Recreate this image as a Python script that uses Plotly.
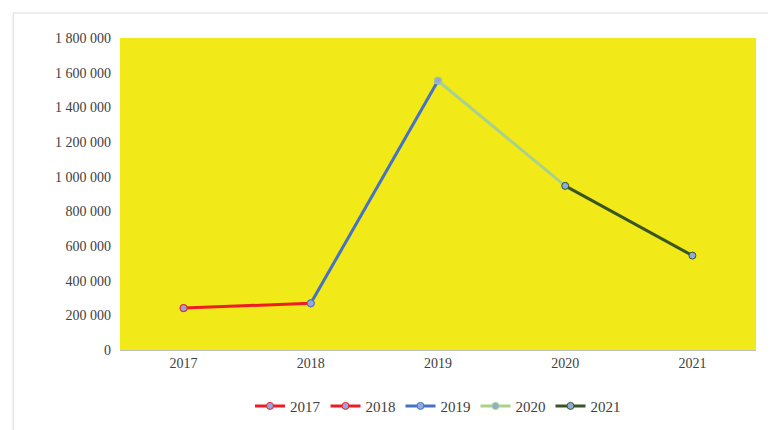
import plotly.graph_objects as go

years = ["2017", "2018", "2019", "2020", "2021"]
values = [241880, 269289, 1553546, 946956, 544765]
labels = ["241  880", "269  289", "1 553  546", "946  956", "544  765"]
colors = ["#ee1c25", "#ee1c25", "#4472c4", "#a9d18e", "#375623"]
tick_vals = [0, 200000, 400000, 600000, 800000, 1000000, 1200000, 1400000, 1600000, 1800000]
tick_text = ["0", "200 000", "400 000", "600 000", "800 000", "1 000 000",
             "1 200 000", "1 400 000", "1 600 000", "1 800 000"]

fig = go.Figure()
for i, yr in enumerate(years):
    start = max(i - 1, 0)
    fig.add_trace(go.Scatter(
        x=years[start:i + 1], y=values[start:i + 1], name=yr, mode="lines+markers",
        line=dict(color=colors[i], width=3),
        marker=dict(size=7, color="#8faadc", line=dict(color=colors[i], width=1)),
    ))

for yr, v, lab in zip(years, values, labels):
    fig.add_annotation(x=yr, y=v, text=lab, showarrow=False, yshift=18,
                       font=dict(size=14, color="#333333"))

fig.update_layout(
    width=776, height=430,
    margin=dict(l=112, r=28, t=30, b=88, autoexpand=False),
    plot_bgcolor="#f2e918", paper_bgcolor="white",
    font=dict(family="Liberation Serif", size=14, color="#404040"),
    legend=dict(orientation="h", x=0.5, xanchor="center", y=-0.18, yanchor="middle",
                font=dict(size=15), bgcolor="rgba(0,0,0,0)"),
    xaxis=dict(showgrid=False, showline=True, linecolor="#bfbfbf", ticks="",
               range=[-0.5, 4.5], automargin=False),
    yaxis=dict(range=[0, 1800000], tickvals=tick_vals, ticktext=tick_text,
               showgrid=False, zeroline=False, automargin=False, ticklabelstandoff=8),
    shapes=[dict(type="rect", xref="paper", yref="paper", x0=-0.168, x1=1.035,
                 y0=-0.266, y1=1.08, line=dict(color="#d9d9d9", width=1))],
)
fig.write_html("out.html")
